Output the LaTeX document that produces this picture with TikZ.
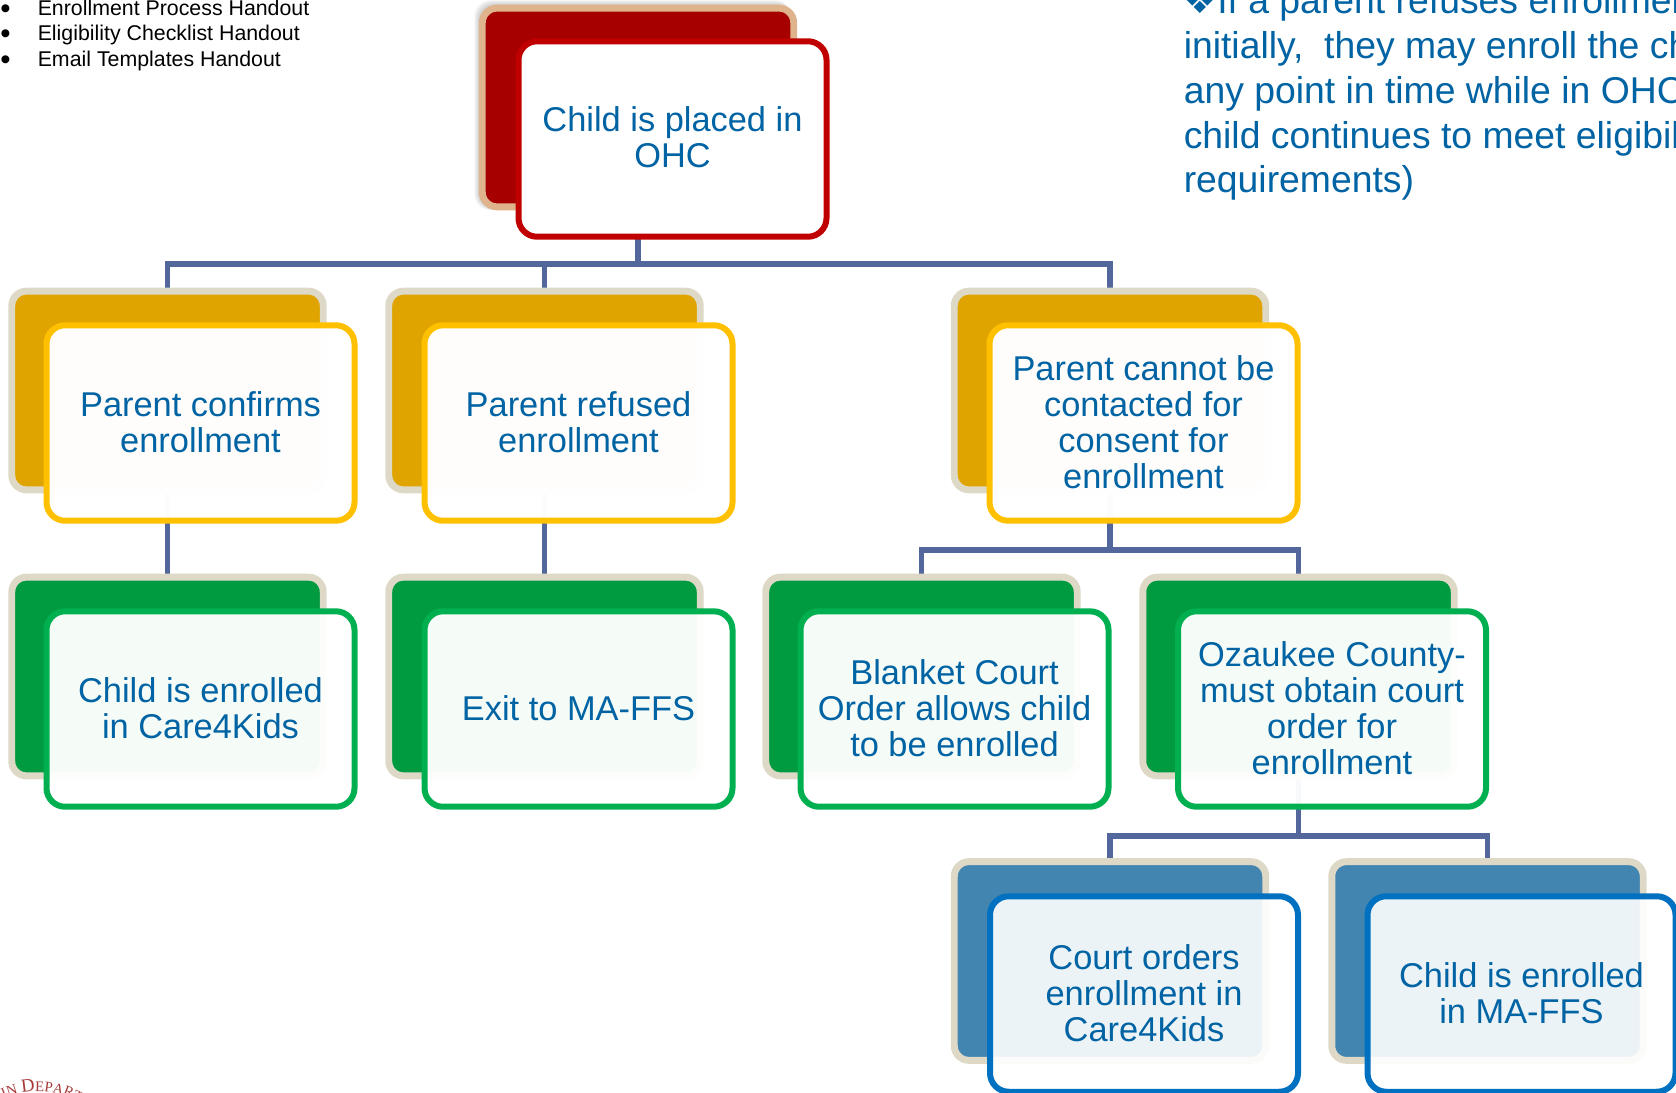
\documentclass[tikz,border=0pt]{standalone}
\usepackage{fontspec}
\setmainfont{Liberation Sans}
\newfontfamily\djv{DejaVu Sans}
\newfontfamily\sealf{Liberation Serif}
\usetikzlibrary{calc,decorations.text}
\pgfdeclarelayer{bg}
\pgfsetlayers{bg,main}
\definecolor{txtblue}{HTML}{0063A3}
\definecolor{linkc}{HTML}{53679C}
\definecolor{sealc}{HTML}{A83A3A}
\definecolor{edgered}{HTML}{DFB48C}
\definecolor{edgepale}{HTML}{DED9C7}
\definecolor{fillred}{HTML}{A60000}
\definecolor{fillgold}{HTML}{DFA400}
\definecolor{fillgreen}{HTML}{009A40}
\definecolor{fillblue}{HTML}{4285B0}
\definecolor{linered}{HTML}{C00000}
\definecolor{linegold}{HTML}{FFC000}
\definecolor{linegreen}{HTML}{00B050}
\definecolor{lineblue}{HTML}{0070C0}
\tikzset{
  pxu/.style={x=0.75pt,y=-0.75pt},
  backbox/.style={rectangle,rounded corners=11pt,line width=5.2pt,outer sep=0pt,
    minimum width=233.6pt,minimum height=149pt,inner sep=0pt},
  frontbox/.style={rectangle,rounded corners=14pt,line width=4.5pt,outer sep=0pt,
    minimum width=231pt,minimum height=146.6pt,inner sep=0pt,align=center,
    text=txtblue,font=\fontsize{25.8pt}{27pt}\selectfont,draw opacity=1,text opacity=1,
    execute at end node={\rule[-1.2pt]{0pt}{0pt}}},
  backred/.style={backbox,draw=edgered,fill=fillred},
  backgold/.style={backbox,draw=edgepale,fill=fillgold},
  backgreen/.style={backbox,draw=edgepale,fill=fillgreen},
  backblue/.style={backbox,draw=edgepale,fill=fillblue},
  frontred/.style={frontbox,draw=linered,fill=white,
    font=\fontsize{25.8pt}{26.4pt}\selectfont,
    execute at end node={\rule[-3pt]{0pt}{0pt}}},
  frontgold/.style={frontbox,draw=linegold,fill=white,fill opacity=.985},
  frontgreen/.style={frontbox,draw=linegreen,fill=white,fill opacity=.96},
  frontblue/.style={frontbox,draw=lineblue,fill=white,fill opacity=.9},
  link/.style={draw=linkc,line width=4.1pt},
  listitem/.style={anchor=base west,inner sep=0pt,font=\fontsize{16pt}{16pt}\selectfont,text=black},
  listdot/.style={anchor=base west,inner sep=0pt,font=\fontsize{22pt}{22pt}\selectfont,text=black},
  notetext/.style={anchor=base west,inner sep=0pt,font=\fontsize{28pt}{28pt}\selectfont,text=txtblue},
}
\begin{document}
\begin{tikzpicture}[pxu]
\clip (0,0) rectangle (1676,1092);

% top-left list
\node[listdot] (b1) at (0,18.5) {•};
\node[listdot] (b2) at (0,43.7) {•};
\node[listdot] (b3) at (0,69) {•};
\node[listitem] (l1) at (37.5,15.5) {Enrollment Process Handout};
\node[listitem] (l2) at (37.5,40.7) {Eligibility Checklist Handout};
\node[listitem] (l3) at (37.5,66) {Email Templates Handout};

% note, top right
\node[notetext] (n1) at (1183.5,13) {{\djv ❖}If a parent refuses enrollmen};
\node[notetext] (n2) at (1183.5,58) {initially,\ \ they may enroll the ch};
\node[notetext] (n3) at (1183.5,103) {any point in time while in OHC};
\node[notetext] (n4) at (1183.5,148) {child continues to meet eligibil};
\node[notetext] (n5) at (1183.5,192) {requirements)};

% back cards
\node[backred]   (rootb) at (638,107.5) {};
\node[backgold]  (ab) at (167.5,390.5) {};
\node[backgold]  (bb) at (544.5,390.5) {};
\node[backgold]  (cb) at (1110,390.5) {};
\node[backgreen] (db) at (167.5,676.5) {};
\node[backgreen] (eb) at (544.5,676.5) {};
\node[backgreen] (fb) at (921.5,676.5) {};
\node[backgreen] (gb) at (1298.5,676.5) {};
\node[backblue]  (hb) at (1110,961) {};
\node[backblue]  (ib) at (1487.5,961) {};

% front cards
\node[frontred]   (root) at (672.5,139) {Child is placed in\\OHC};
\node[frontgold]  (a) at (200.5,423) {Parent confirms\\enrollment};
\node[frontgold]  (b) at (578.5,423) {Parent refused\\enrollment};
\node[frontgold]  (c) at (1143.5,423) {Parent cannot be\\contacted for\\consent for\\enrollment};
\node[frontgreen] (d) at (200.5,709) {Child is enrolled\\in Care4Kids};
\node[frontgreen] (e) at (578.5,709) {Exit to MA-FFS};
\node[frontgreen] (f) at (954.5,709) {Blanket Court\\Order allows child\\to be enrolled};
\node[frontgreen] (g) at (1332,709) {Ozaukee County-\\must obtain court\\order for\\enrollment};
\node[frontblue]  (h) at (1144,994) {Court orders\\enrollment in\\Care4Kids};
\node[frontblue]  (i) at (1521.5,994) {Child is enrolled\\in MA-FFS};

\begin{pgfonlayer}{bg}
  \fill[white] (0,0) rectangle (1676,1092);
  % soft shadow of the red card
  \foreach \d in {1,2,...,8}
    \fill[black,opacity=.035,rounded corners=12pt]
      ($(rootb.north west)+(-\d,-\d)$) rectangle ($(rootb.south east)+(-\d*0.3,\d*0.4)$);
  % connectors
  \draw[link] (rootb.south) -- ++(0,57) -| (ab.north);
  \draw[link] (rootb.south) -- ++(0,57) -| (bb.north);
  \draw[link] (rootb.south) -- ++(0,57) -| (cb.north);
  \draw[link] (ab.south) -- (db.north);
  \draw[link] (bb.south) -- (eb.north);
  \draw[link] (cb.south) -- ++(0,60) -| (fb.north);
  \draw[link] (cb.south) -- ++(0,60) -| (gb.north);
  \draw[link] (gb.south) -- ++(0,60) -| (hb.north);
  \draw[link] (gb.south) -- ++(0,60) -| (ib.north);
\end{pgfonlayer}

% fragment of the seal, bottom left
\path[decorate,decoration={text along path,text align=center,
   text={|\sealf\fontsize{11pt}{11pt}\selectfont\color{sealc}|SIN |\sealf\fontsize{14pt}{14pt}\selectfont\color{sealc}|D|\sealf\fontsize{11pt}{11pt}\selectfont\color{sealc}|EPART}}]
   (-20,1115) .. controls (13,1083.5) and (63,1083.5) .. (96,1115);
\end{tikzpicture}
\end{document}
